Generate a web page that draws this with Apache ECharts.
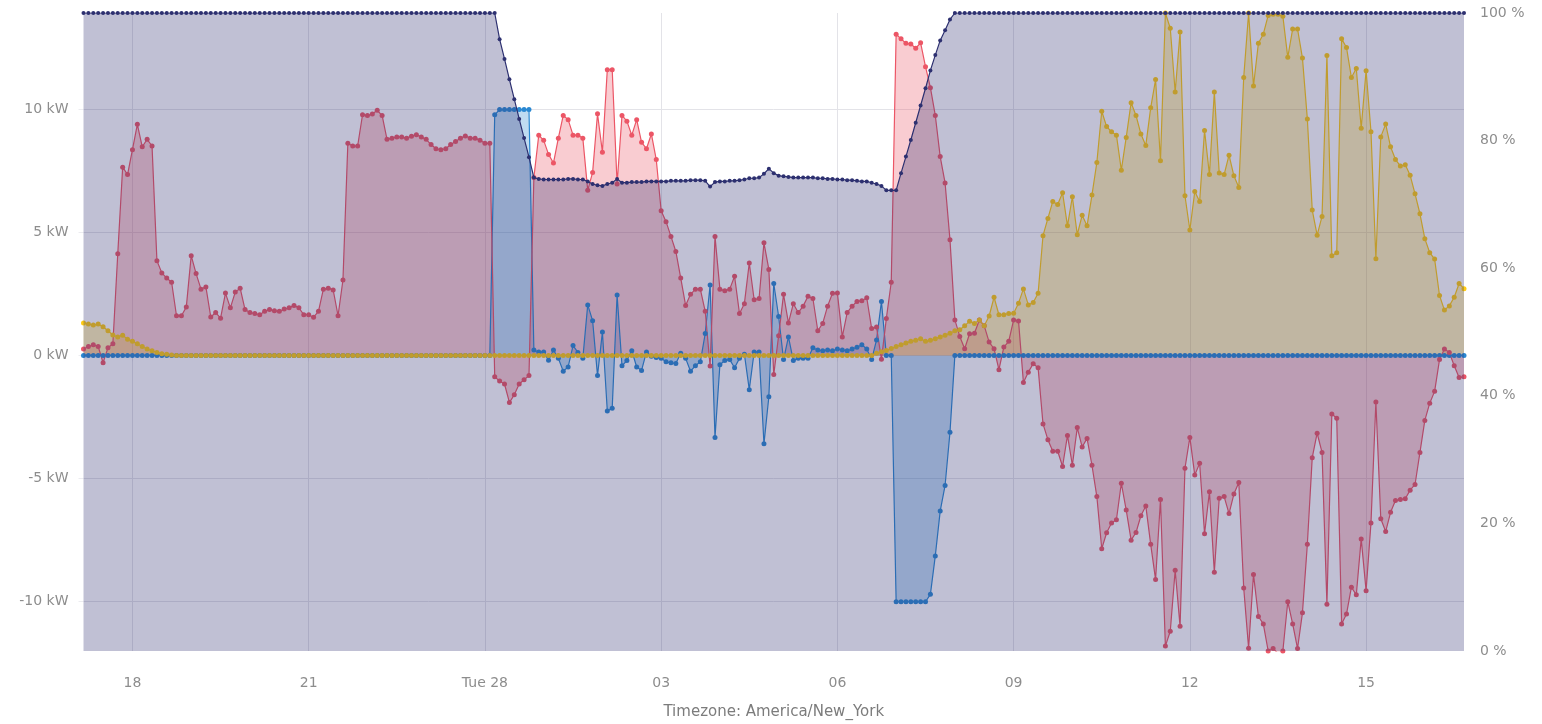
<!DOCTYPE html>
<html>
<head>
<meta charset="utf-8">
<title>Energy</title>
<script src="https://cdn.jsdelivr.net/npm/echarts@6.0.0/dist/echarts.min.js"></script>
<style>
	html, body { margin: 0; padding: 0; background: #fff; }
	#energyChart { width: 1542px; height: 724px; }
</style>
</head>
<body>
<div id="energyChart"></div>
<script>
// samples every 5 minutes, first one at 17:10 (hours counted from Monday 00:00)
var startHour = 17 + 10 / 60;
var stepHour = 5 / 60;

// x axis ticks
var tickHours = [18, 21, 24, 27, 30, 33, 36, 39];
var tickLabels = ['18', '21', 'Tue 28', '03', '06', '09', '12', '15'];
var kwTicks = [-10, -5, 0, 5, 10];

// battery power (kW)
var batteryKw = [
	0, 0, 0, 0, 0, 0, 0, 0, 0, 0,
	0, 0, 0, 0, 0, 0, 0, 0, 0, 0,
	0, 0, 0, 0, 0, 0, 0, 0, 0, 0,
	0, 0, 0, 0, 0, 0, 0, 0, 0, 0,
	0, 0, 0, 0, 0, 0, 0, 0, 0, 0,
	0, 0, 0, 0, 0, 0, 0, 0, 0, 0,
	0, 0, 0, 0, 0, 0, 0, 0, 0, 0,
	0, 0, 0, 0, 0, 0, 0, 0, 0, 0,
	0, 0, 0, 0, 9.77, 9.98, 9.98, 9.98, 9.98, 9.98,
	9.98, 9.98, 0.22, 0.14, 0.14, -0.2, 0.22, -0.12, -0.64, -0.47,
	0.4, 0.12, -0.12, 2.05, 1.41, -0.82, 0.95, -2.26, -2.15, 2.45,
	-0.42, -0.21, 0.19, -0.47, -0.61, 0.14, -0.03, -0.09, -0.12, -0.26,
	-0.3, -0.33, 0.09, -0.12, -0.64, -0.42, -0.26, 0.89, 2.86, -3.33,
	-0.38, -0.21, -0.17, -0.5, -0.12, 0.05, -1.39, 0.14, 0.14, -3.59,
	-1.68, 2.92, 1.58, -0.17, 0.75, -0.21, -0.12, -0.12, -0.12, 0.31,
	0.22, 0.19, 0.22, 0.19, 0.26, 0.22, 0.19, 0.26, 0.33, 0.43,
	0.26, -0.17, 0.63, 2.19, 0, 0, -10, -10, -10, -10,
	-10, -10, -10, -9.7, -8.14, -6.32, -5.28, -3.12, 0, 0,
	0, 0, 0, 0, 0, 0, 0, 0, 0, 0,
	0, 0, 0, 0, 0, 0, 0, 0, 0, 0,
	0, 0, 0, 0, 0, 0, 0, 0, 0, 0,
	0, 0, 0, 0, 0, 0, 0, 0, 0, 0,
	0, 0, 0, 0, 0, 0, 0, 0, 0, 0,
	0, 0, 0, 0, 0, 0, 0, 0, 0, 0,
	0, 0, 0, 0, 0, 0, 0, 0, 0, 0,
	0, 0, 0, 0, 0, 0, 0, 0, 0, 0,
	0, 0, 0, 0, 0, 0, 0, 0, 0, 0,
	0, 0, 0, 0, 0, 0, 0, 0, 0, 0,
	0, 0, 0
];

// grid import (+) / export (-) (kW)
var gridKw = [
	0.26, 0.36, 0.43, 0.36, -0.3, 0.31, 0.47, 4.13, 7.64, 7.34,
	8.35, 9.38, 8.47, 8.77, 8.5, 3.84, 3.35, 3.14, 2.97, 1.61,
	1.61, 1.96, 4.05, 3.32, 2.69, 2.78, 1.56, 1.74, 1.51, 2.53,
	1.93, 2.57, 2.73, 1.86, 1.74, 1.70, 1.65, 1.79, 1.86, 1.81,
	1.79, 1.88, 1.93, 2.03, 1.93, 1.65, 1.65, 1.55, 1.79, 2.69,
	2.73, 2.66, 1.61, 3.06, 8.61, 8.5, 8.5, 9.77, 9.74, 9.8,
	9.95, 9.74, 8.77, 8.82, 8.87, 8.87, 8.82, 8.9, 8.96, 8.87,
	8.77, 8.56, 8.39, 8.35, 8.39, 8.56, 8.68, 8.82, 8.91, 8.82,
	8.82, 8.73, 8.61, 8.61, -0.87, -1.04, -1.16, -1.91, -1.6, -1.16,
	-0.99, -0.82, 7.22, 8.94, 8.73, 8.16, 7.81, 8.82, 9.74, 9.57,
	8.94, 8.94, 8.82, 6.70, 7.43, 9.81, 8.25, 11.6, 11.6, 6.96,
	9.74, 9.51, 8.94, 9.57, 8.65, 8.39, 8.99, 7.95, 5.87, 5.43,
	4.83, 4.22, 3.14, 2.03, 2.48, 2.69, 2.69, 1.79, -0.43, 4.83,
	2.69, 2.62, 2.69, 3.21, 1.70, 2.10, 3.75, 2.26, 2.31, 4.57,
	3.49, -0.78, 0.80, 2.48, 1.32, 2.10, 1.74, 2.0, 2.4, 2.31,
	1.0, 1.3, 2.0, 2.52, 2.53, 0.75, 1.74, 2.0, 2.19, 2.22,
	2.34, 1.09, 1.15, -0.16, 1.5, 2.97, 13.04, 12.85, 12.67, 12.64,
	12.47, 12.69, 11.72, 10.87, 9.74, 8.07, 7.0, 4.69, 1.44, 0.77,
	0.27, 0.88, 0.9, 1.44, 1.2, 0.54, 0.27, -0.58, 0.34, 0.57,
	1.44, 1.40, -1.1, -0.68, -0.34, -0.5, -2.78, -3.42, -3.89, -3.89,
	-4.51, -3.25, -4.46, -2.93, -3.72, -3.37, -4.46, -5.73, -7.85, -7.2,
	-6.8, -6.67, -5.19, -6.28, -7.5, -7.19, -6.51, -6.11, -7.67, -9.1,
	-5.85, -11.8, -11.2, -8.72, -11.0, -4.58, -3.33, -4.86, -4.38, -7.24,
	-5.54, -8.8, -5.8, -5.73, -6.42, -5.63, -5.16, -9.44, -11.89, -8.89,
	-10.6, -10.9, -12.0, -11.9, -12.1, -12.0, -10.0, -10.9, -11.9, -10.45,
	-7.67, -4.15, -3.16, -3.94, -10.1, -2.38, -2.55, -10.9, -10.5, -9.41,
	-9.72, -7.45, -9.55, -6.8, -1.89, -6.63, -7.15, -6.37, -5.89, -5.85,
	-5.82, -5.47, -5.24, -3.94, -2.64, -1.94, -1.46, -0.17, 0.26, 0.12,
	-0.42, -0.9, -0.87
];

// solar production (kW)
var solarKw = [
	1.32, 1.27, 1.23, 1.27, 1.16, 1.0, 0.83, 0.75, 0.82, 0.66,
	0.57, 0.47, 0.36, 0.26, 0.19, 0.12, 0.07, 0.05, 0.02, 0,
	0, 0, 0, 0, 0, 0, 0, 0, 0, 0,
	0, 0, 0, 0, 0, 0, 0, 0, 0, 0,
	0, 0, 0, 0, 0, 0, 0, 0, 0, 0,
	0, 0, 0, 0, 0, 0, 0, 0, 0, 0,
	0, 0, 0, 0, 0, 0, 0, 0, 0, 0,
	0, 0, 0, 0, 0, 0, 0, 0, 0, 0,
	0, 0, 0, 0, 0, 0, 0, 0, 0, 0,
	0, 0, 0, 0, 0, 0, 0, 0, 0, 0,
	0, 0, 0, 0, 0, 0, 0, 0, 0, 0,
	0, 0, 0, 0, 0, 0, 0, 0, 0, 0,
	0, 0, 0, 0, 0, 0, 0, 0, 0, 0,
	0, 0, 0, 0, 0, 0, 0, 0, 0, 0,
	0, 0, 0, 0, 0, 0, 0, 0, 0, 0,
	0, 0, 0, 0, 0, 0, 0, 0, 0, 0,
	0, 0, 0.09, 0.15, 0.2, 0.28, 0.36, 0.43, 0.5, 0.57,
	0.62, 0.68, 0.57, 0.62, 0.68, 0.75, 0.82, 0.9, 1.0, 1.04,
	1.2, 1.39, 1.3, 1.44, 1.2, 1.6, 2.36, 1.65, 1.65, 1.7,
	1.71, 2.12, 2.7, 2.05, 2.15, 2.52, 4.86, 5.56, 6.25, 6.13,
	6.6, 5.26, 6.44, 4.9, 5.69, 5.26, 6.51, 7.83, 9.91, 9.29,
	9.08, 8.94, 7.52, 8.85, 10.26, 9.74, 8.99, 8.52, 10.05, 11.2,
	7.9, 13.9, 13.28, 10.69, 13.13, 6.48, 5.09, 6.65, 6.25, 9.13,
	7.34, 10.69, 7.40, 7.34, 8.13, 7.29, 6.82, 11.28, 13.9, 10.94,
	12.67, 13.04, 13.8, 13.85, 13.85, 13.77, 12.1, 13.25, 13.25, 12.07,
	9.6, 5.9, 4.88, 5.64, 12.17, 4.05, 4.17, 12.85, 12.5, 11.28,
	11.65, 9.22, 11.56, 9.08, 3.92, 8.87, 9.39, 8.47, 7.95, 7.69,
	7.74, 7.31, 6.56, 5.75, 4.74, 4.17, 3.91, 2.43, 1.84, 2.01,
	2.36, 2.92, 2.71
];

// battery state of charge (%)
var socPct = [
	100, 100, 100, 100, 100, 100, 100, 100, 100, 100,
	100, 100, 100, 100, 100, 100, 100, 100, 100, 100,
	100, 100, 100, 100, 100, 100, 100, 100, 100, 100,
	100, 100, 100, 100, 100, 100, 100, 100, 100, 100,
	100, 100, 100, 100, 100, 100, 100, 100, 100, 100,
	100, 100, 100, 100, 100, 100, 100, 100, 100, 100,
	100, 100, 100, 100, 100, 100, 100, 100, 100, 100,
	100, 100, 100, 100, 100, 100, 100, 100, 100, 100,
	100, 100, 100, 100, 100, 95.9, 92.8, 89.6, 86.5, 83.4,
	80.4, 77.4, 74.2, 74.0, 73.9, 73.9, 73.9, 73.9, 73.9, 74.0,
	74.0, 73.9, 73.9, 73.6, 73.2, 73.0, 72.9, 73.2, 73.4, 74.0,
	73.4, 73.4, 73.5, 73.5, 73.5, 73.6, 73.6, 73.6, 73.6, 73.6,
	73.7, 73.7, 73.7, 73.7, 73.8, 73.8, 73.8, 73.7, 72.8, 73.5,
	73.6, 73.6, 73.7, 73.7, 73.8, 73.9, 74.1, 74.1, 74.2, 74.8,
	75.6, 74.9, 74.5, 74.4, 74.3, 74.2, 74.2, 74.2, 74.2, 74.2,
	74.1, 74.1, 74.0, 74.0, 73.9, 73.9, 73.8, 73.8, 73.7, 73.6,
	73.6, 73.4, 73.2, 72.9, 72.2, 72.2, 72.2, 74.9, 77.5, 80.1,
	82.8, 85.5, 88.2, 91.0, 93.4, 95.7, 97.3, 99.0, 100, 100,
	100, 100, 100, 100, 100, 100, 100, 100, 100, 100,
	100, 100, 100, 100, 100, 100, 100, 100, 100, 100,
	100, 100, 100, 100, 100, 100, 100, 100, 100, 100,
	100, 100, 100, 100, 100, 100, 100, 100, 100, 100,
	100, 100, 100, 100, 100, 100, 100, 100, 100, 100,
	100, 100, 100, 100, 100, 100, 100, 100, 100, 100,
	100, 100, 100, 100, 100, 100, 100, 100, 100, 100,
	100, 100, 100, 100, 100, 100, 100, 100, 100, 100,
	100, 100, 100, 100, 100, 100, 100, 100, 100, 100,
	100, 100, 100, 100, 100, 100, 100, 100, 100, 100,
	100, 100, 100
];

var labelFont = 'DejaVu Sans';
var labelColor = '#8d8d8d';

//把数值数组转成 [小时, 值]
function toPairs(values) {
	var out = [];
	for (var i = 0; i < values.length; i++) {
		out.push([startHour + i * stepHour, values[i]]);
	}
	return out;
}

function hourLabel(v) {
	var k = tickHours.indexOf(Math.round(v));
	return k >= 0 ? tickLabels[k] : '';
}

// z: the state of charge area is painted over the other series
function areaSeries(name, values, color, yAxisIndex, size, z) {
	return {
		name: name,
		type: 'line',
		z: z,
		yAxisIndex: yAxisIndex,
		data: toPairs(values),
		symbol: 'circle',
		symbolSize: size,
		showSymbol: true,
		showAllSymbol: true,
		lineStyle: { color: color, width: 1.2 },
		itemStyle: { color: color, borderWidth: 0 },
		areaStyle: { color: color, opacity: 0.3 },
		emphasis: { disabled: true }
	};
}

var lastHour = startHour + (socPct.length - 1) * stepHour;

var energyChart = echarts.init(document.getElementById('energyChart'));
energyChart.setOption({
	animation: false,
	grid: {
		left: 83.5,
		right: 78,
		top: 13,
		bottom: 73,
		containLabel: false,
		outerBoundsMode: 'none'
	},
	xAxis: {
		type: 'value',
		min: startHour,
		max: lastHour,
		name: 'Timezone: America/New_York',
		nameLocation: 'middle',
		nameGap: 54,
		nameTextStyle: { color: '#7c7c7c', fontFamily: labelFont, fontSize: 15 },
		axisLine: { show: false },
		axisTick: {
			show: true,
			length: 6,
			customValues: tickHours,
			lineStyle: { color: '#dcdce2' }
		},
		axisLabel: {
			customValues: tickHours,
			formatter: hourLabel,
			margin: 25,
			color: labelColor,
			fontFamily: labelFont,
			fontSize: 14
		},
		splitLine: { show: true, lineStyle: { color: '#e3e3e8', width: 1 } }
	},
	yAxis: [
		{
			type: 'value',
			min: -12,
			max: 13.9,
			axisLine: { show: false },
			axisTick: {
				show: true,
				length: 5,
				customValues: kwTicks,
				lineStyle: { color: '#ececf0' }
			},
			axisLabel: {
				customValues: kwTicks,
				formatter: '{value} kW',
				margin: 15,
				color: labelColor,
				fontFamily: labelFont,
				fontSize: 14
			},
			splitLine: { show: true, lineStyle: { color: '#e3e3e8', width: 1 } }
		},
		{
			type: 'value',
			position: 'right',
			min: 0,
			max: 100,
			interval: 20,
			axisLine: { show: false },
			axisTick: { show: false },
			axisLabel: {
				formatter: '{value} %',
				margin: 16,
				color: labelColor,
				fontFamily: labelFont,
				fontSize: 14
			},
			splitLine: { show: false }
		}
	],
	series: [
		areaSeries('Battery', batteryKw, '#2a88d2', 0, 5, 2),
		areaSeries('Grid', gridKw, '#ec5666', 0, 5, 2),
		areaSeries('Solar', solarKw, '#ffcc12', 0, 5, 2),
		areaSeries('State of charge', socPct, '#2d3070', 1, 4, 3)
	]
});
</script>
</body>
</html>
